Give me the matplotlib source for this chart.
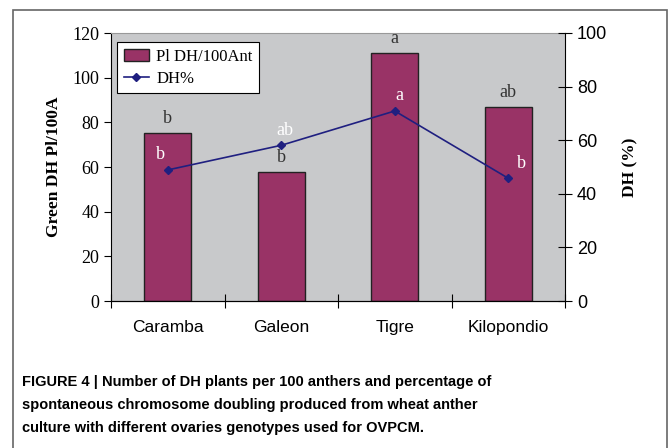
import numpy as np
import matplotlib.pyplot as plt
from matplotlib.patches import Rectangle

genotypes = ['Caramba', 'Galeon', 'Tigre', 'Kilopondio']
pl_dh = [75.4, 57.9, 111.2, 87.0]          # Pl DH/100Ant (left axis)
dh_pct = [48.9, 58.1, 70.9, 45.8]          # DH% (right axis)
bar_letters = ['b', 'b', 'a', 'ab']
line_letters = ['b', 'ab', 'a', 'b']

W, H = 670, 448
fig = plt.figure(figsize=(W / 100, H / 100), dpi=100)
serif = 'Liberation Serif'
sans = 'Liberation Sans'

# outer frame
fig.add_artist(Rectangle((13 / W, -0.01), (667 - 13) / W, (448 - 10) / H + 0.01,
                         transform=fig.transFigure, fill=False,
                         edgecolor='#666666', lw=1.2))

ax = fig.add_axes([111 / W, (H - 301) / H, (565 - 111) / W, (301 - 33) / H])
ax.set_facecolor('#c8c9cb')
x = np.arange(len(genotypes))
ax.bar(x, pl_dh, width=0.41, color='#993366', edgecolor='#222222', lw=1.0,
       label='Pl DH/100Ant', zorder=2)
ax.set_xlim(-0.5, 3.5)
ax.set_ylim(0, 120)
ax.set_yticks(range(0, 121, 20))
ax.tick_params(axis='y', direction='out', length=5, labelsize=13)
for t in ax.get_yticklabels():
    t.set_fontfamily(serif)
ax.set_xticks(np.arange(-0.5, 3.6, 1))
ax.set_xticklabels([])
ax.tick_params(axis='x', which='major', direction='inout', length=10)
ax.set_xticks(x, minor=True)
ax.set_xticklabels(genotypes, minor=True, fontfamily=sans, fontsize=12.5)
ax.tick_params(axis='x', which='minor', length=0, pad=14)
ax.set_ylabel('Green DH Pl/100A', fontfamily=serif, fontweight='bold',
              fontsize=12.6, labelpad=7)
ax.spines['top'].set_color('#999999')
ax.spines['right'].set_visible(False)

for xi, v, s in zip(x, pl_dh, bar_letters):
    ax.text(xi, v + 2.5, s, ha='center', va='bottom', fontfamily=serif,
            fontsize=13, color='#333333')

ax2 = ax.twinx()
ax2.plot(x, dh_pct, color='#1f1f80', lw=1.2, marker='D', markersize=4,
         label='DH%', zorder=3)
ax2.set_ylim(0, 100)
ax2.set_yticks(range(0, 101, 20))
ax2.tick_params(axis='y', direction='inout', length=10, labelsize=13)
for t in ax2.get_yticklabels():
    t.set_fontfamily(sans)
ax2.set_ylabel('DH (%)', fontfamily=serif, fontweight='bold', fontsize=12.5,
               labelpad=11)
ax2.spines['top'].set_visible(False)
ax2.spines['left'].set_visible(False)

offsets = [-0.06, 0.03, 0.04, 0.12]
for xi, v, s, dx in zip(x, dh_pct, line_letters, offsets):
    ax2.text(xi + dx, v + 2.5, s, ha='center', va='bottom', fontfamily=serif,
             fontsize=13, color='white')

h1, l1 = ax.get_legend_handles_labels()
h2, l2 = ax2.get_legend_handles_labels()
leg = ax.legend(h1 + h2, l1 + l2, loc='upper left', bbox_to_anchor=(0.013, 0.966),
                borderaxespad=0, prop={'family': serif, 'size': 12},
                fancybox=False, edgecolor='black', framealpha=1, borderpad=0.4,
                handlelength=1.5, handletextpad=0.45, labelspacing=0.35)
leg.get_frame().set_linewidth(0.8)
leg.set_zorder(5)

caption = ['FIGURE 4 | Number of DH plants per 100 anthers and percentage of',
           'spontaneous chromosome doubling produced from wheat anther',
           'culture with different ovaries genotypes used for OVPCM.']
for i, line in enumerate(caption):
    fig.text(22 / W, 1 - (382 + 23 * i) / H, line, ha='left', va='center',
             fontfamily=sans, fontweight='bold', fontsize=10.5)

fig.savefig('out.png', dpi=100)
